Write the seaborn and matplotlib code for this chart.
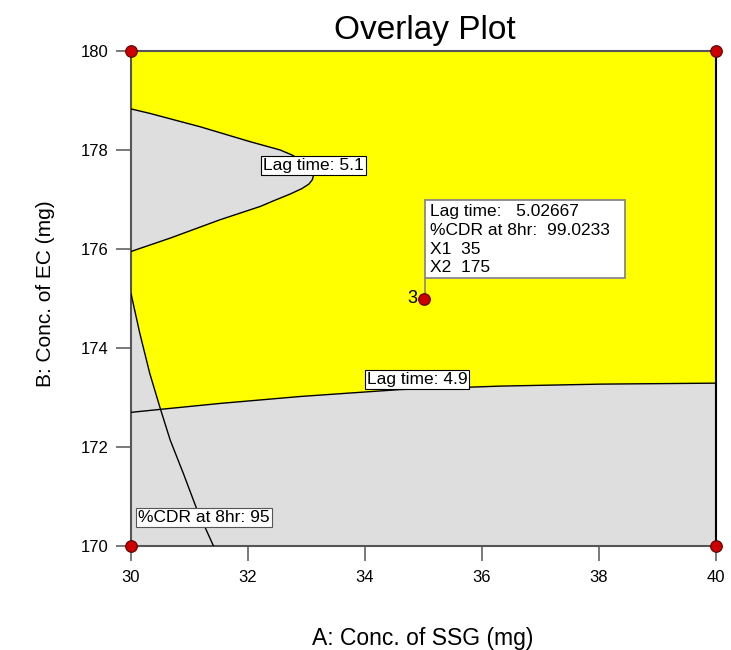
import numpy as np
import pandas as pd
import matplotlib
matplotlib.use("Agg")
import matplotlib.pyplot as plt
from matplotlib.patches import Rectangle
import seaborn as sns

# Contour traces of the overlay (A = SSG, B = EC)
lag51_x = [30.00, 30.67, 31.52, 32.21, 32.45, 32.72, 32.92, 33.04, 33.10, 33.12,
           33.10, 33.04, 32.93, 32.75, 32.55, 32.03, 31.18, 30.32, 30.00]
lag51_y = [175.95, 176.22, 176.59, 176.86, 176.98, 177.11, 177.22, 177.31, 177.40, 177.49,
           177.58, 177.68, 177.78, 177.90, 178.00, 178.17, 178.47, 178.74, 178.83]

lag49_x = [30.00, 30.50, 31.52, 32.89, 33.74, 34.60, 36.31, 38.02, 40.00]
lag49_y = [172.70, 172.76, 172.88, 173.02, 173.09, 173.16, 173.23, 173.27, 173.29]

cdr95_x = [30.00, 30.15, 30.32, 30.50, 30.67, 30.90, 31.12, 31.41]
cdr95_y = [175.10, 174.30, 173.49, 172.78, 172.14, 171.45, 170.76, 170.00]

# Design points
design_x = [30, 30, 40, 40, 35]
design_y = [170, 180, 170, 180, 175]

# Flag point summary
flag_x, flag_y = 35, 175
flag_lines = ["Lag time:   5.02667", "%CDR at 8hr:  99.0233", "X1  35", "X2  175"]

x_ticks = [30, 32, 34, 36, 38, 40]
y_ticks = [170, 172, 174, 176, 178, 180]

sns.set_theme(style="white")
plt.rcParams["font.family"] = ["Liberation Sans", "DejaVu Sans"]
plt.rcParams["text.color"] = "black"
plt.rcParams["axes.labelcolor"] = "black"

W, H = 731, 650
fig = plt.figure(figsize=(W / 100, H / 100), dpi=100)
ax = fig.add_axes([131 / W, 1 - 546 / H, 585 / W, 495 / H])
ax.set_xlim(30, 40)
ax.set_ylim(170, 180)
ax.set_facecolor("#dedede")

# Feasible (yellow) window
poly_x = np.concatenate([[30, 40], lag49_x[1:][::-1], cdr95_x[:4][::-1], lag51_x])
poly_y = np.concatenate([[180, 180], lag49_y[1:][::-1], cdr95_y[:4][::-1], lag51_y])
ax.fill(poly_x, poly_y, color="#ffff00", lw=0, zorder=1)

# Contour lines
for cx, cy in [(lag51_x, lag51_y), (lag49_x, lag49_y), (cdr95_x, cdr95_y)]:
    df = pd.DataFrame({"x": cx, "y": cy})
    sns.lineplot(data=df, x="x", y="y", sort=False, estimator=None,
                 color="black", lw=1.0, ax=ax, zorder=3)

label_kw = dict(fontsize=12.5, ha="center", va="center", zorder=6, color="black")
ax.text(33.12, 177.69, "Lag time: 5.1",
        bbox=dict(boxstyle="square,pad=0.12", fc="white", ec="black", lw=0.8), **label_kw)
ax.text(34.89, 173.36, "Lag time: 4.9",
        bbox=dict(boxstyle="square,pad=0.12", fc="white", ec="black", lw=0.8), **label_kw)
ax.text(31.25, 170.57, "%CDR at 8hr: 95",
        bbox=dict(boxstyle="square,pad=0.12", fc="white", ec="#555555", lw=0.8), **label_kw)

# Flag box
ax.plot([35.02, 35.02], [flag_y, 175.41], color="#888888", lw=1.2, zorder=4)
ax.add_patch(Rectangle((35.03, 175.41), 3.41, 1.58, fc="white", ec="#888888", lw=1.3, zorder=5))
for line, ty in zip(flag_lines, [176.75, 176.38, 175.99, 175.63]):
    ax.text(35.11, ty, line, fontsize=12.5, ha="left", va="center", zorder=6, color="black")

# Design points
pts = pd.DataFrame({"x": design_x, "y": design_y})
sns.scatterplot(data=pts, x="x", y="y", s=70, color="#cc0000",
                edgecolor="#5a0000", linewidth=0.8, ax=ax, zorder=7)
ax.collections[-1].set_clip_on(False)
ax.text(34.89, 175.0, "3", fontsize=13, ha="right", va="center", zorder=7, color="black")

# Axes styling
ax.set_xticks(x_ticks)
ax.set_yticks(y_ticks)
ax.set_xticklabels([str(v) for v in x_ticks])
ax.set_yticklabels([str(v) for v in y_ticks])
ax.tick_params(axis="both", direction="out", length=11, width=1.1, color="#555555",
               labelsize=12, labelcolor="black")
ax.tick_params(axis="x", pad=6)
ax.tick_params(axis="y", pad=5)
ax.tick_params(bottom=True, left=True)
for side in ["left", "bottom", "top"]:
    ax.spines[side].set_color("#555555")
    ax.spines[side].set_linewidth(1.5)
ax.spines["right"].set_color("black")
ax.spines["right"].set_linewidth(1.5)
ax.set_xlabel("")
ax.set_ylabel("")

fig.text(425 / W, 1 - 30 / H, "Overlay Plot", fontsize=24, ha="center", va="center")
fig.text(423 / W, 1 - 639 / H, "A: Conc. of SSG (mg)", fontsize=16.5, ha="center", va="center")
fig.text(46 / W, 1 - 294 / H, "B: Conc. of EC (mg)", fontsize=15, ha="center", va="center",
         rotation=90)

fig.savefig("out.png", dpi=100)
